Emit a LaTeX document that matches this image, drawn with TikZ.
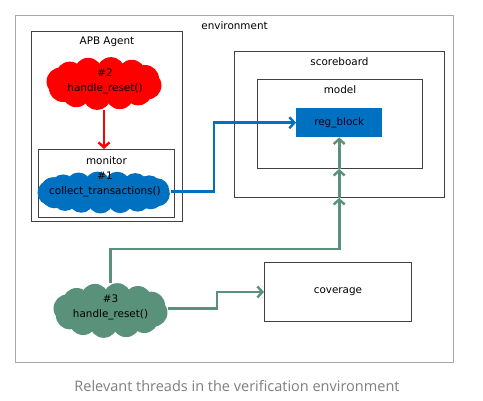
\documentclass[tikz,border=0pt]{standalone}
\usepackage{fontspec}
\setmainfont{DejaVu Sans}
\newfontfamily\capfont{Open Sans}
\usetikzlibrary{arrows.meta}
\definecolor{envgray}{HTML}{A8A8A8}
\definecolor{boxgray}{HTML}{404040}
\definecolor{cred}{HTML}{FF0000}
\definecolor{cblue}{HTML}{0070C0}
\definecolor{cgreen}{HTML}{5A917A}
\definecolor{capgray}{HTML}{7F7F7F}
\tikzset{
  txt/.style={font=\fontsize{10.4}{15}\selectfont, text=black},
  boxnode/.style={draw=boxgray, line width=0.9pt, inner sep=0pt, anchor=north west},
  lab/.style={txt, inner sep=0pt, anchor=center},
  thread/.style={txt, align=center, inner sep=0pt, draw=none},
  cloudbox/.style={inner sep=0pt, draw=none},
  conn/.style={line width=2.6pt, -{Straight Barb[length=5pt,width=11pt,line width=2.4pt]}},
  plain/.style={line width=2.6pt},
}
% \cloudfill{color}{cx}{cy}{W}{H}{r}{n}
\newcommand\cloudfill[7]{%
  \pgfmathsetmacro\cfa{#4-#6}%
  \pgfmathsetmacro\cfb{#5-#6}%
  \fill[#1] (#2,#3) ellipse [x radius=\cfa, y radius=\cfb];
  \foreach \k in {1,...,#7}{%
    \pgfmathsetmacro\cfang{360*\k/#7+9}%
    \fill[#1] ({#2+\cfa*cos(\cfang)},{#3+\cfb*sin(\cfang)}) circle [radius=#6];
  }%
}
\begin{document}
\begin{tikzpicture}[x=1pt,y=-1pt]
\useasboundingbox (0,0) rectangle (483,400);
\fill[white] (0,0) rectangle (483,400);
% boxes
\node[boxnode, draw=envgray, line width=1.1pt, minimum width=438pt, minimum height=347pt] (env) at (15,15) {};
\node[boxnode, minimum width=151pt, minimum height=190pt] (apb) at (31,31) {};
\node[boxnode, minimum width=136pt, minimum height=68pt] (mon) at (38,149) {};
\node[boxnode, minimum width=210pt, minimum height=146pt] (sb) at (234,51) {};
\node[boxnode, minimum width=165pt, minimum height=89pt] (mdl) at (257,79) {};
\node[boxnode, minimum width=147pt, minimum height=59pt] (cov) at (264,262) {};
\node[anchor=north west, fill=cblue, inner sep=0pt, minimum width=86pt, minimum height=29pt] (rb) at (296,108) {};
\node[lab, text=black!85!blue] at (rb.center) {reg\_block};
\node[lab] at (cov.center) {coverage};
% labels
\node[lab] at ([yshift=-11pt]env.north) {environment};
\node[lab] at ([yshift=-11pt]apb.north) {APB Agent};
\node[lab] at ([yshift=-12pt]mon.north) {monitor};
\node[lab] at ([yshift=-11pt]sb.north) {scoreboard};
\node[lab] at ([yshift=-11pt]mdl.north) {model};
% clouds
\cloudfill{cred}{104}{83.5}{58}{26.5}{14}{12}
\cloudfill{cblue}{104}{192.5}{66.5}{21}{12.5}{17}
\cloudfill{cgreen}{110.5}{310.5}{57.5}{27.5}{14}{12}
\node[cloudbox, minimum width=116pt, minimum height=53pt] (c2) at (104,83.5) {};
\node[cloudbox, minimum width=133pt, minimum height=42pt] (c1) at (104,192.5) {};
\node[cloudbox, minimum width=115pt, minimum height=55pt] (c3) at (110.5,310.5) {};
\node[thread] (t2) at (105,81.5) {\#2\\handle\_reset()};
\node[thread] (t1) at (105,184.5) {\#1\\collect\_transactions()};
\node[thread] (t3) at (110.5,307.5) {\#3\\handle\_reset()};
% connectors
\draw[conn, cred] (c2.south) -- (c2.south |- mon.north);
\coordinate (bj) at (214,0);
\draw[conn, cblue] ([yshift=1pt]c1.east) -- ([yshift=1pt]bj |- c1.east) -- (bj |- rb.west) -- (rb.west);
\coordinate (gj) at (0,249);
\draw[plain, cgreen] (c3.north) -- (c3.north |- gj) -- (rb.south |- gj);
\draw[conn, cgreen] ([xshift=-1.3pt]rb.south |- gj) -- (rb.south |- gj) -- (rb.south |- sb.south);
\draw[conn, cgreen] (rb.south |- sb.south) -- (rb.south |- mdl.south);
\draw[conn, cgreen] (rb.south |- mdl.south) -- (rb.south);
\coordinate (gk) at (217,0);
\draw[conn, cgreen] ([yshift=2pt]c3.east) -- ([yshift=2pt]gk |- c3.east) -- (gk |- cov.west) -- (cov.west);
% caption
\node[font=\capfont\fontsize{14.5}{16}\selectfont, text=capgray, inner sep=0pt] (cap) at (237,386) {Relevant threads in the verification environment};
\end{tikzpicture}
\end{document}
